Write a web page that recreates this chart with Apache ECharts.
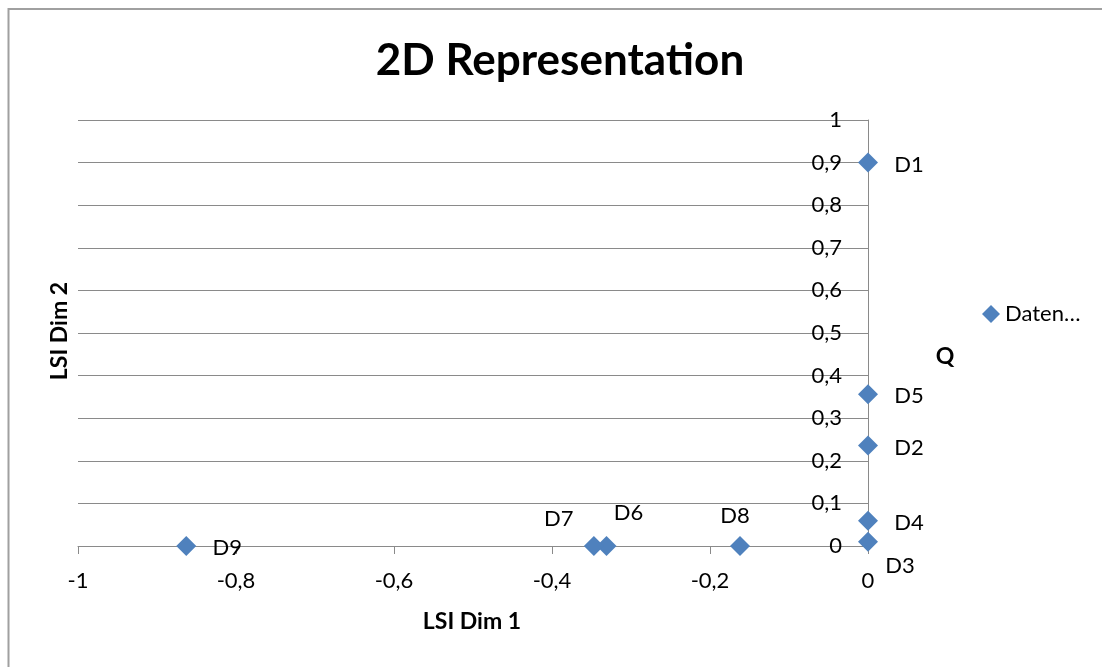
<!DOCTYPE html>
<html>
<head>
<meta charset="utf-8">
<title>2D Representation</title>
<script src="https://cdn.jsdelivr.net/npm/echarts@6/dist/echarts.min.js"></script>
<style>
  html, body { margin: 0; padding: 0; background: #fff; }
  #chart { width: 1102px; height: 667px; }
</style>
</head>
<body>
<div id="chart"></div>
<script>
// Document coordinates in the two-dimensional LSI space
const docNames = ['D1', 'D2', 'D3', 'D4', 'D5', 'D6', 'D7', 'D8', 'D9'];
const dim1 = [0, 0, 0, 0, 0, -0.331, -0.347, -0.162, -0.863];
const dim2 = [0.9, 0.236, 0.01, 0.059, 0.356, 0, 0, 0, 0];

// Tick labels (German decimal comma)
const xTickValues = [-1, -0.8, -0.6, -0.4, -0.2, 0];
const xTickLabels = ['-1', '-0,8', '-0,6', '-0,4', '-0,2', '0'];
const yTickValues = [0, 0.1, 0.2, 0.3, 0.4, 0.5, 0.6, 0.7, 0.8, 0.9, 1];
const yTickLabels = ['0', '0,1', '0,2', '0,3', '0,4', '0,5', '0,6', '0,7', '0,8', '0,9', '1'];

const seriesName = 'Datenreihe1';
const legendText = 'Daten…';

// Where each point label sits relative to its marker centre
const labelOffset = {
  D1: [41, 2], D2: [41, 2], D3: [32, 24], D4: [41, 2], D5: [41, 2],
  D6: [22, -33], D7: [-35, -27], D8: [-5, -30], D9: [41, 2]
};

const FONT = 'Lato, "Noto Sans", sans-serif';
const GRID_COLOR = '#8a8a8a';
const MARK_COLOR = '#4f81bd';

function lookup(values, labels, v) {
  for (let i = 0; i < values.length; i++) {
    if (Math.abs(values[i] - v) < 1e-6) return labels[i];
  }
  return '';
}

const points = docNames.map((n, i) => ({
  name: n,
  value: [dim1[i], dim2[i]],
  label: { offset: labelOffset[n] }
}));

const chart = echarts.init(document.getElementById('chart'), null, { renderer: 'canvas' });

chart.setOption({
  animation: false,
  backgroundColor: '#ffffff',
  textStyle: { fontFamily: FONT },
  grid: { left: 78, right: 234, top: 120, bottom: 121, containLabel: false },
  legend: {
    data: [seriesName],
    left: 977,
    top: 298,
    orient: 'vertical',
    icon: 'diamond',
    itemWidth: 18,
    itemHeight: 18,
    itemGap: 0,
    itemStyle: { color: MARK_COLOR, opacity: 1 },
    formatter: () => legendText,
    textStyle: { fontFamily: FONT, fontSize: 22, color: '#000' }
  },
  xAxis: {
    type: 'value',
    min: -1,
    max: 0,
    interval: 0.2,
    axisLine: { show: true, onZero: true, lineStyle: { color: GRID_COLOR, width: 1 } },
    axisTick: { show: true, length: 8, lineStyle: { color: GRID_COLOR } },
    splitLine: { show: false },
    axisLabel: {
      margin: 24,
      fontSize: 22,
      color: '#000',
      fontFamily: FONT,
      formatter: v => lookup(xTickValues, xTickLabels, v)
    }
  },
  // The vertical axis crosses at x = 0, which is the right edge of the plot
  yAxis: {
    type: 'value',
    position: 'right',
    min: 0,
    max: 1,
    interval: 0.1,
    axisLine: { show: true, onZero: false, lineStyle: { color: GRID_COLOR, width: 1 } },
    axisTick: { show: false },
    splitLine: { show: true, lineStyle: { color: GRID_COLOR, width: 1 } },
    axisLabel: {
      inside: true,
      margin: 26,
      fontSize: 22,
      color: '#000',
      fontFamily: FONT,
      formatter: v => lookup(yTickValues, yTickLabels, v)
    }
  },
  series: [{
    name: seriesName,
    type: 'scatter',
    symbol: 'diamond',
    symbolSize: 20,
    itemStyle: { color: MARK_COLOR, opacity: 1 },
    label: {
      show: true,
      position: 'inside',
      formatter: p => p.name,
      fontSize: 22,
      color: '#000',
      fontFamily: FONT
    },
    data: points
  }],
  graphic: [
    {
      type: 'rect',
      silent: true,
      shape: { x: 8.5, y: 9, width: 1300, height: 1000 },
      style: { fill: null, stroke: '#a0a0a0', lineWidth: 2 }
    },
    {
      type: 'text',
      x: 560, y: 61,
      style: {
        text: '2D Representation', fontFamily: FONT, fontWeight: 'bold', fontSize: 44,
        fill: '#000', align: 'center', verticalAlign: 'middle'
      }
    },
    {
      type: 'text',
      x: 472, y: 622,
      style: {
        text: 'LSI Dim 1', fontFamily: FONT, fontWeight: 'bold', fontSize: 23,
        fill: '#000', align: 'center', verticalAlign: 'middle'
      }
    },
    {
      type: 'text',
      x: 60, y: 331,
      rotation: Math.PI / 2,
      style: {
        text: 'LSI Dim 2', fontFamily: FONT, fontWeight: 'bold', fontSize: 23,
        fill: '#000', align: 'center', verticalAlign: 'middle'
      }
    },
    {
      type: 'text',
      x: 945, y: 357,
      style: {
        text: 'Q', fontFamily: FONT, fontWeight: 'bold', fontSize: 23,
        fill: '#000', align: 'center', verticalAlign: 'middle'
      }
    }
  ]
});
</script>
</body>
</html>
